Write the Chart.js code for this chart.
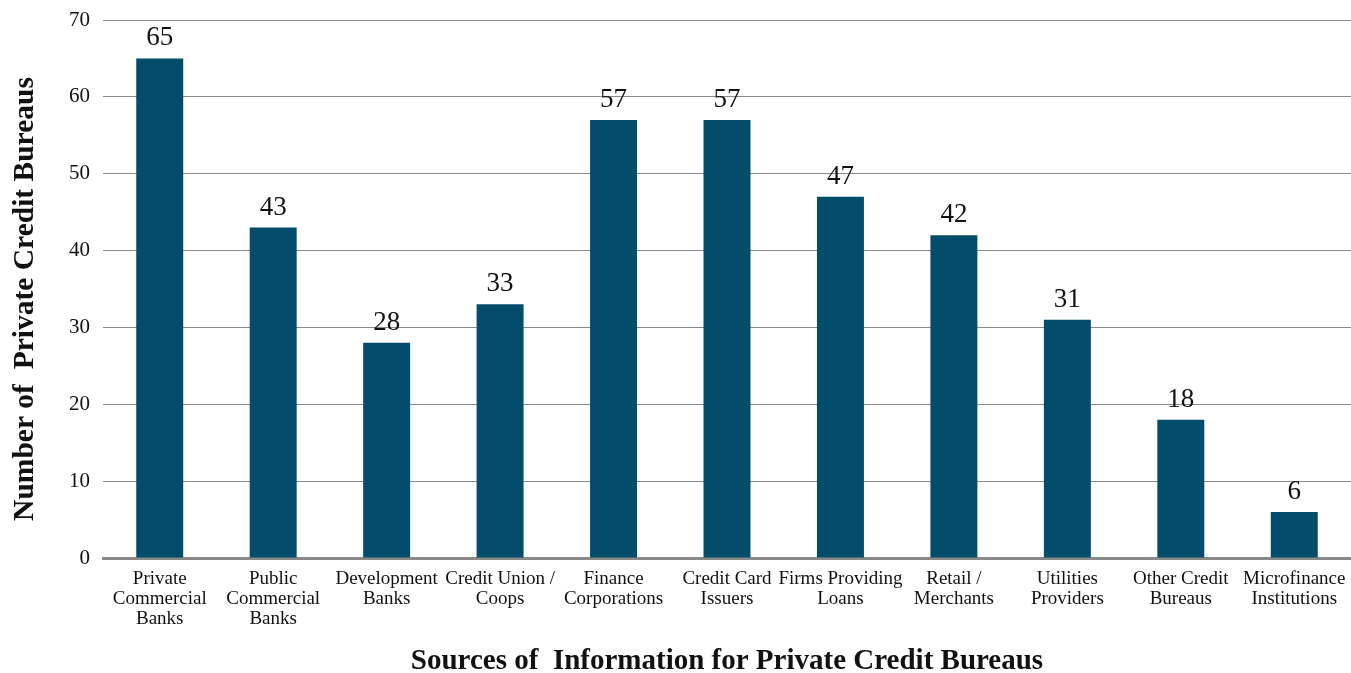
<!DOCTYPE html>
<html>
<head>
<meta charset="utf-8">
<script src="https://cdn.jsdelivr.net/npm/chart.js@4.4.1/dist/chart.umd.min.js"></script>
<style>
  html, body { margin: 0; padding: 0; background: #ffffff; }
  #wrap { width: 1351px; height: 673px; position: relative; }
</style>
</head>
<body>
<div id="wrap"><canvas id="c" width="1351" height="673"></canvas></div>
<script>
const categories = [
  ["Private", "Commercial", "Banks"],
  ["Public", "Commercial", "Banks"],
  ["Development", "Banks"],
  ["Credit Union /", "Coops"],
  ["Finance", "Corporations"],
  ["Credit Card", "Issuers"],
  ["Firms Providing", "Loans"],
  ["Retail /", "Merchants"],
  ["Utilities", "Providers"],
  ["Other Credit", "Bureaus"],
  ["Microfinance", "Institutions"]
];
const bureauCounts = [65, 43, 28, 33, 57, 57, 47, 42, 31, 18, 6];
const yTicks = [0, 10, 20, 30, 40, 50, 60, 70];
const xTitle = "Sources of  Information for Private Credit Bureaus";
const yTitle = "Number of  Private Credit Bureaus";

const FONT = "'Liberation Serif', 'Times New Roman', serif";

const valueLabels = {
  id: 'valueLabels',
  afterDatasetsDraw(chart) {
    const ctx = chart.ctx;
    const meta = chart.getDatasetMeta(0);
    ctx.save();
    ctx.font = "27px " + FONT;
    ctx.fillStyle = '#111111';
    ctx.textAlign = 'center';
    ctx.textBaseline = 'alphabetic';
    meta.data.forEach((bar, i) => {
      ctx.fillText(String(bureauCounts[i]), bar.x, bar.y - 13);
    });
    ctx.restore();
  }
};

const yTitlePlugin = {
  id: 'yTitlePlugin',
  afterDraw(chart) {
    const ctx = chart.ctx;
    const area = chart.chartArea;
    ctx.save();
    ctx.translate(25, (area.top + area.bottom) / 2 + 10);
    ctx.rotate(-Math.PI / 2);
    ctx.font = "bold 29.5px " + FONT;
    ctx.fillStyle = '#111111';
    ctx.textAlign = 'center';
    ctx.textBaseline = 'middle';
    ctx.fillText(yTitle, 0, 0);
    ctx.restore();
  }
};

new Chart(document.getElementById('c'), {
  type: 'bar',
  data: {
    labels: categories,
    datasets: [{
      data: bureauCounts,
      backgroundColor: '#034d6b',
      borderWidth: 0,
      barPercentage: 0.414,
      categoryPercentage: 1.0
    }]
  },
  options: {
    responsive: false,
    animation: false,
    layout: { padding: { top: 20, right: 0, left: 8, bottom: 0 } },
    plugins: {
      legend: { display: false },
      tooltip: { enabled: false }
    },
    scales: {
      x: {
        grid: { display: false, drawTicks: false },
        border: { display: true, color: '#8a8a8a', width: 3 },
        afterFit(scale) { scale.height = 115; scale.paddingLeft = 0; scale.paddingRight = 0; },
        ticks: {
          color: '#111111',
          font: { family: FONT, size: 19, lineHeight: 1.05 },
          padding: 11,
          maxRotation: 0,
          autoSkip: false
        },
        title: {
          display: true,
          text: xTitle,
          color: '#111111',
          font: { family: FONT, size: 29, weight: 'bold', lineHeight: 0.8 },
          padding: { top: 10, bottom: 0 }
        }
      },
      y: {
        min: 0,
        max: 70,
        afterBuildTicks(scale) { scale.ticks = yTicks.map(v => ({ value: v })); },
        afterFit(scale) { scale.width = 95; scale.paddingTop = 0; scale.paddingBottom = 0; },
        grid: { color: '#8a8a8a', lineWidth: 1, drawTicks: false },
        border: { display: false },
        ticks: {
          color: '#111111',
          font: { family: FONT, size: 21 },
          padding: 13
        },
        title: { display: false }
      }
    }
  },
  plugins: [valueLabels, yTitlePlugin]
});
</script>
</body>
</html>
